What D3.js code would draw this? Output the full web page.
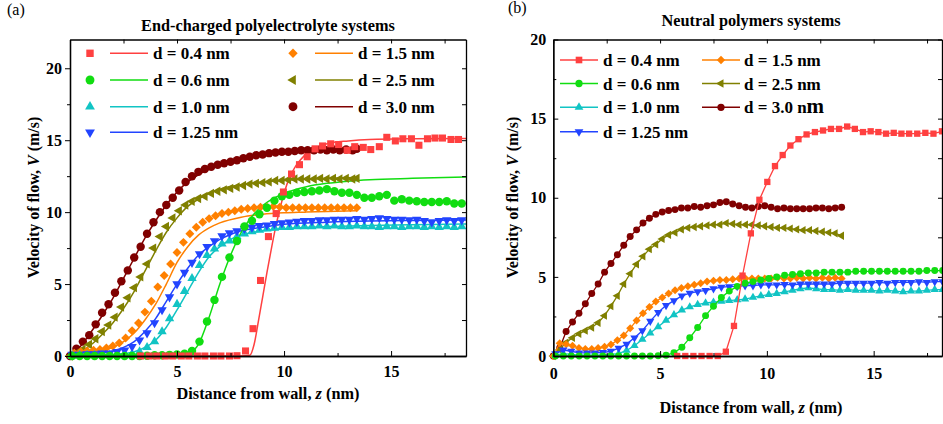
<!DOCTYPE html>
<html>
<head>
<meta charset="utf-8">
<script src="https://cdn.jsdelivr.net/npm/d3@7"></script>
<style>
  body { margin: 0; background: #fff; }
  svg text { font-family: "Liberation Serif", "Times New Roman", serif; }
</style>
</head>
<body>
<script>
var w = 943,
    h = 424;

var labels = ['d = 0.4 nm', 'd = 0.6 nm', 'd = 1.0 nm', 'd = 1.25 nm', 'd = 1.5 nm', 'd = 2.5 nm', 'd = 3.0 nm'];
var colors = ['#ff4040', '#11dd11', '#11c4c4', '#2244ff', '#ff8000', '#808000', '#800000'];
var shapes = ['square', 'circle', 'up', 'down', 'diamond', 'left', 'circle'];

var xTicks = [0, 5, 10, 15],
    xMinor = [2.5, 7.5, 12.5, 17.5],
    yTicks = [0, 5, 10, 15, 20],
    yMinor = [2.5, 7.5, 12.5, 17.5];

// ---- panel (a): simulation points, [z, V]
var aRed = [[3.3,0],[3.7,0],[4.05,0],[4.45,0],[4.8,0],[5.2,0],[5.55,0],[5.95,0],[6.3,0],[6.7,0],[7.05,0],[7.45,0],[7.8,0.02],[8.2,0.35],[8.55,1.9],[8.9,5.25],[9.27,8.3],[9.63,9.9],[9.97,11.4],[10.35,12.65],[10.72,13.3],[11.08,13.85],[11.45,14.4],[11.8,14.6],[12.18,14.75],[12.55,14.7],[12.95,14.3],[13.3,14.55],[13.7,14.5],[14.05,14.35],[14.45,14.55],[14.8,15.2],[15.2,14.95],[15.55,15.1],[15.95,15.1],[16.3,14.65],[16.7,15.1],[17.05,15.15],[17.4,15.15],[17.8,15.05],[18.15,15.05]];
var aGreen = [[0.1,0],[0.45,0],[0.8,0],[1.15,0],[1.5,0],[1.85,0],[2.2,0],[2.55,0],[2.9,0],[3.25,0],[3.6,0.02],[3.95,0.05],[4.3,0.05],[4.65,0.08],[5.0,0.1],[5.35,0.15],[5.7,0.35],[6.05,1.0],[6.4,2.4],[6.75,3.9],[7.1,5.5],[7.45,6.85],[7.8,8.0],[8.15,9.0],[8.5,9.4],[8.85,9.85],[9.2,10.3],[9.55,10.8],[9.9,11.1],[10.25,11.2],[10.6,11.35],[10.95,11.4],[11.3,11.45],[11.65,11.5],[12.0,11.6],[12.35,11.45],[12.7,11.35],[13.05,11.35],[13.4,11.2],[13.75,11.0],[14.1,11.0],[14.45,11.1],[14.8,11.2],[15.15,10.8],[15.5,10.9],[15.85,10.8],[16.2,10.75],[16.55,10.7],[16.9,10.7],[17.25,10.7],[17.6,10.75],[17.95,10.6],[18.3,10.6]];
var aCyan = [[0.1,0],[0.45,0.05],[0.8,0.05],[1.15,0.05],[1.5,0.05],[1.85,0.05],[2.2,0.1],[2.55,0.1],[2.9,0.15],[3.25,0.3],[3.6,0.6],[3.95,1.0],[4.3,1.7],[4.65,2.6],[5.0,3.6],[5.35,4.5],[5.7,5.4],[6.05,6.3],[6.4,7.0],[6.75,7.45],[7.1,7.8],[7.45,8.0],[7.8,8.3],[8.15,8.5],[8.5,8.65],[8.85,8.75],[9.2,8.85],[9.55,8.9],[9.9,8.95],[10.25,8.95],[10.6,9.0],[10.95,9.0],[11.3,9.0],[11.65,9.05],[12.0,9.0],[12.35,9.05],[12.7,9.0],[13.05,9.0],[13.4,9.05],[13.75,9.0],[14.1,9.0],[14.45,8.95],[14.8,9.0],[15.15,9.0],[15.5,8.95],[15.85,9.0],[16.2,9.0],[16.55,8.95],[16.9,9.0],[17.25,8.95],[17.6,9.0],[17.95,8.95],[18.3,9.0]];
var aBlue = [[0.1,0.1],[0.45,0.1],[0.8,0.15],[1.15,0.15],[1.5,0.2],[1.85,0.2],[2.2,0.3],[2.55,0.4],[2.9,0.65],[3.25,1.1],[3.6,1.6],[3.95,2.3],[4.3,3.2],[4.65,4.1],[5.0,5.0],[5.35,5.8],[5.7,6.5],[6.05,7.1],[6.4,7.6],[6.75,8.0],[7.1,8.35],[7.45,8.55],[7.8,8.7],[8.15,8.85],[8.5,8.95],[8.85,9.05],[9.2,9.1],[9.55,9.2],[9.9,9.25],[10.25,9.3],[10.6,9.35],[10.95,9.4],[11.3,9.4],[11.65,9.45],[12.0,9.45],[12.35,9.5],[12.7,9.5],[13.05,9.5],[13.4,9.55],[13.75,9.5],[14.1,9.55],[14.45,9.6],[14.8,9.55],[15.15,9.5],[15.5,9.5],[15.85,9.45],[16.2,9.5],[16.55,9.4],[16.9,9.3],[17.25,9.4],[17.6,9.45],[17.95,9.4],[18.3,9.45]];
var aOrange = [[0.2,0.2],[0.5,0.3],[0.8,0.35],[1.1,0.4],[1.4,0.45],[1.7,0.55],[2.0,0.7],[2.3,0.9],[2.6,1.25],[2.9,1.75],[3.2,2.3],[3.5,3.05],[3.8,3.8],[4.1,4.8],[4.4,5.6],[4.7,6.4],[5.0,7.2],[5.3,7.9],[5.6,8.5],[5.9,8.95],[6.2,9.3],[6.5,9.55],[6.8,9.75],[7.1,9.9],[7.4,10.0],[7.7,10.1],[8.0,10.2],[8.3,10.25],[8.6,10.3],[8.9,10.35],[9.2,10.35],[9.5,10.4],[9.8,10.35],[10.1,10.3],[10.4,10.3],[10.7,10.3],[11.0,10.3],[11.3,10.3],[11.6,10.3],[11.9,10.3],[12.2,10.3],[12.5,10.3],[12.8,10.3],[13.1,10.3],[13.4,10.3]];
var aOlive = [[0,0],[0.3,0.2],[0.6,0.45],[0.9,0.8],[1.2,1.2],[1.5,1.7],[1.8,2.15],[2.1,2.7],[2.4,3.4],[2.7,4.05],[3.0,4.75],[3.3,5.5],[3.6,6.4],[3.9,7.5],[4.2,8.3],[4.5,9.0],[4.8,9.6],[5.1,10.1],[5.4,10.5],[5.7,10.75],[6.0,10.95],[6.3,11.1],[6.6,11.3],[6.9,11.45],[7.2,11.55],[7.5,11.65],[7.8,11.75],[8.1,11.85],[8.4,11.95],[8.7,12.0],[9.0,12.05],[9.3,12.1],[9.6,12.2],[9.9,12.2],[10.2,12.25],[10.5,12.3],[10.8,12.3],[11.1,12.3],[11.4,12.3],[11.7,12.35],[12.0,12.3],[12.3,12.35],[12.6,12.3],[12.9,12.35],[13.2,12.3],[13.4,12.35]];
var aDark = [[0,0],[0.3,0.5],[0.6,1.0],[0.9,1.45],[1.2,2.2],[1.5,3.0],[1.8,3.6],[2.1,4.4],[2.4,5.2],[2.7,5.95],[3.0,6.85],[3.3,7.6],[3.6,8.5],[3.9,9.3],[4.2,10.0],[4.5,10.5],[4.8,11.0],[5.1,11.5],[5.4,12.1],[5.7,12.5],[6.0,12.8],[6.3,13.0],[6.6,13.15],[6.9,13.3],[7.2,13.4],[7.5,13.5],[7.8,13.6],[8.1,13.75],[8.4,13.85],[8.7,13.95],[9.0,14.0],[9.3,14.1],[9.6,14.15],[9.9,14.2],[10.2,14.2],[10.5,14.25],[10.8,14.3],[11.1,14.3],[11.4,14.3],[11.7,14.35],[12.0,14.3],[12.3,14.35],[12.6,14.3],[12.9,14.35],[13.2,14.3],[13.4,14.4]];

// ---- panel (a): fitted curves
var fitRed = [[0,0],[8,0],[8.4,0.05],[8.6,0.8],[8.8,2.4],[9.0,4.1],[9.2,5.8],[9.4,7.4],[9.6,8.9],[9.8,10.2],[10.0,11.3],[10.25,12.4],[10.5,13.1],[10.75,13.6],[11,14.0],[11.5,14.5],[12,14.75],[13,14.95],[14,15.05],[16,15.1],[18.5,15.12]];
var fitGreen = [[0,0],[5,0.02],[5.5,0.15],[6,0.8],[6.5,2.7],[7,5.0],[7.5,7.0],[8,8.6],[8.5,9.7],[9,10.45],[9.5,10.95],[10,11.3],[11,11.75],[12,12.0],[13,12.15],[14,12.25],[16,12.35],[18.5,12.45]];
var fitCyan = [[0,0],[1,0.02],[2,0.1],[3,0.3],[3.5,0.6],[4,1.1],[4.5,2.0],[5,3.2],[5.5,4.5],[6,5.8],[6.5,6.9],[7,7.6],[7.5,8.1],[8,8.4],[9,8.7],[10,8.85],[12,9.0],[14,9.07],[16,9.12],[18.5,9.17]];
var fitBlue = [[0,0.05],[1,0.15],[2,0.35],[2.5,0.6],[3,1.0],[3.5,1.7],[4,2.6],[4.5,3.8],[5,5.0],[5.5,6.1],[6,7.0],[6.5,7.6],[7,8.1],[7.5,8.45],[8,8.7],[9,8.95],[10,9.15],[12,9.3],[14,9.38],[16,9.42],[18.5,9.45]];
var fitOrange = [[0,0.05],[1,0.2],[2,0.6],[2.5,1.0],[3,1.6],[3.5,2.5],[4,3.6],[4.5,5.0],[5,6.5],[5.5,7.6],[6,8.4],[6.5,8.9],[7,9.25],[8,9.65],[9,9.85],[10,9.95],[11,10.0],[12,10.05],[13.4,10.1]];
var fitOlive = [[0,0],[0.5,0.3],[1,0.8],[1.5,1.5],[2,2.3],[2.5,3.3],[3,4.5],[3.5,5.9],[4,7.3],[4.5,8.6],[5,9.6],[5.5,10.4],[6,10.9],[6.5,11.3],[7,11.6],[8,11.9],[9,12.1],[10,12.2],[11,12.3],[12,12.35],[13.4,12.4]];
var fitDark = [[0,0],[0.5,0.7],[1,1.7],[1.5,2.8],[2,4.0],[2.5,5.4],[3,6.8],[3.5,8.2],[4,9.4],[4.5,10.5],[5,11.4],[5.5,12.1],[6,12.6],[7,13.3],[8,13.8],[9,14.1],[10,14.25],[11,14.35],[12,14.4],[13.4,14.45]];

// ---- panel (b): line + symbol series, [z, V]
var bRed = [[5.8,0],[6.18,0],[6.56,0],[6.94,0],[7.32,0],[7.7,0],[8.08,0.27],[8.46,1.9],[8.86,5.08],[9.25,7.75],[9.65,9.87],[10.02,11.0],[10.38,12.0],[10.74,12.7],[11.1,13.3],[11.48,13.7],[11.86,14.0],[12.25,14.15],[12.63,14.25],[13.0,14.35],[13.38,14.35],[13.76,14.5],[14.12,14.35],[14.5,14.15],[14.86,14.2],[15.22,14.15],[15.58,14.05],[15.94,14.1],[16.3,14.05],[16.66,14.05],[17.04,14.05],[17.42,14.1],[17.8,14.05],[18.2,14.2]];
var bGreen = [[0.1,0],[0.47,0],[0.84,0],[1.21,0],[1.58,0],[1.95,0],[2.32,0],[2.69,0],[3.06,0],[3.43,0],[3.8,0],[4.17,0],[4.54,0],[4.91,0.02],[5.28,0.05],[5.65,0.2],[6.02,0.55],[6.39,1.15],[6.76,1.8],[7.13,2.55],[7.5,3.15],[7.87,3.7],[8.24,4.1],[8.61,4.4],[8.98,4.6],[9.35,4.7],[9.72,4.8],[10.09,4.9],[10.46,5.0],[10.83,5.1],[11.2,5.15],[11.57,5.2],[11.94,5.25],[12.31,5.25],[12.68,5.3],[13.05,5.3],[13.42,5.3],[13.79,5.3],[14.16,5.35],[14.53,5.35],[14.9,5.35],[15.27,5.35],[15.64,5.35],[16.01,5.35],[16.38,5.35],[16.75,5.35],[17.12,5.35],[17.49,5.4],[17.86,5.4],[18.23,5.4]];
var bCyan = [[0.1,0.05],[0.47,0.15],[0.84,0.1],[1.21,0.05],[1.58,0.05],[1.95,0.05],[2.32,0.05],[2.69,0.1],[3.06,0.15],[3.43,0.35],[3.8,0.65],[4.17,1.05],[4.54,1.45],[4.91,1.85],[5.28,2.25],[5.65,2.6],[6.02,2.9],[6.39,3.1],[6.76,3.25],[7.13,3.35],[7.5,3.4],[7.87,3.45],[8.24,3.5],[8.61,3.55],[8.98,3.6],[9.35,3.7],[9.72,3.8],[10.09,3.88],[10.46,3.95],[10.83,4.05],[11.2,4.15],[11.57,4.25],[11.94,4.3],[12.31,4.25],[12.68,4.2],[13.05,4.2],[13.42,4.15],[13.79,4.2],[14.16,4.15],[14.53,4.15],[14.9,4.15],[15.27,4.1],[15.64,4.15],[16.01,4.1],[16.38,4.05],[16.75,4.1],[17.12,4.1],[17.49,4.15],[17.86,4.2],[18.23,4.2]];
var bBlue = [[0.1,0.15],[0.47,0.38],[0.84,0.3],[1.21,0.2],[1.58,0.2],[1.95,0.2],[2.32,0.22],[2.69,0.3],[3.06,0.5],[3.43,0.75],[3.8,1.15],[4.17,1.6],[4.54,2.2],[4.91,2.75],[5.28,3.2],[5.65,3.5],[6.02,3.8],[6.39,3.97],[6.76,4.07],[7.13,4.15],[7.5,4.25],[7.87,4.35],[8.24,4.38],[8.61,4.4],[8.98,4.45],[9.35,4.45],[9.72,4.5],[10.09,4.5],[10.46,4.5],[10.83,4.52],[11.2,4.5],[11.57,4.55],[11.94,4.55],[12.31,4.55],[12.68,4.55],[13.05,4.55],[13.42,4.6],[13.79,4.6],[14.16,4.6],[14.53,4.6],[14.9,4.6],[15.27,4.65],[15.64,4.6],[16.01,4.65],[16.38,4.65],[16.75,4.65],[17.12,4.7],[17.49,4.65],[17.86,4.7],[18.23,4.7]];
var bOrange = [[0,0],[0.3,0.8],[0.6,0.75],[0.9,0.65],[1.2,0.5],[1.5,0.45],[1.8,0.45],[2.1,0.5],[2.4,0.58],[2.7,0.72],[3.0,1.0],[3.3,1.3],[3.6,1.75],[3.9,2.25],[4.2,2.7],[4.5,3.1],[4.8,3.45],[5.1,3.7],[5.4,3.95],[5.7,4.15],[6.0,4.3],[6.3,4.4],[6.6,4.5],[6.9,4.6],[7.2,4.7],[7.5,4.75],[7.8,4.8],[8.1,4.8],[8.4,4.85],[8.7,4.9],[9.0,4.9],[9.3,4.9],[9.6,4.9],[9.9,4.9],[10.2,4.9],[10.5,4.95],[10.8,4.9],[11.1,4.9],[11.4,4.95],[11.7,4.9],[12.0,4.95],[12.3,4.9],[12.6,4.95],[12.9,4.9],[13.2,4.95],[13.5,4.9]];
var bOlive = [[0,0],[0.3,0.4],[0.6,0.85],[0.9,1.15],[1.2,1.4],[1.5,1.6],[1.8,1.8],[2.1,2.1],[2.4,2.55],[2.7,3.15],[3.0,3.8],[3.3,4.55],[3.6,5.2],[3.9,5.8],[4.2,6.3],[4.5,6.75],[4.8,7.05],[5.1,7.4],[5.4,7.65],[5.7,7.8],[6.0,8.0],[6.3,8.1],[6.6,8.15],[6.9,8.2],[7.2,8.25],[7.5,8.3],[7.8,8.3],[8.1,8.4],[8.4,8.35],[8.7,8.3],[9.0,8.3],[9.3,8.3],[9.6,8.25],[9.9,8.2],[10.2,8.15],[10.5,8.1],[10.8,8.1],[11.1,8.05],[11.4,8.0],[11.7,7.95],[12.0,7.95],[12.3,7.9],[12.6,7.85],[12.9,7.8],[13.2,7.75],[13.5,7.6]];
var bDark = [[0,0],[0.3,0.5],[0.6,1.55],[0.9,2.15],[1.2,2.7],[1.5,3.3],[1.8,3.95],[2.1,4.55],[2.4,5.3],[2.7,5.85],[3.0,6.4],[3.3,7.0],[3.6,7.55],[3.9,7.97],[4.2,8.4],[4.5,8.7],[4.8,8.95],[5.1,9.1],[5.4,9.2],[5.7,9.25],[6.0,9.35],[6.3,9.35],[6.6,9.45],[6.9,9.4],[7.2,9.5],[7.5,9.55],[7.8,9.7],[8.1,9.75],[8.4,9.6],[8.7,9.5],[9.0,9.4],[9.3,9.35],[9.6,9.45],[9.9,9.5],[10.2,9.4],[10.5,9.3],[10.8,9.35],[11.1,9.3],[11.4,9.3],[11.7,9.3],[12.0,9.3],[12.3,9.35],[12.6,9.35],[12.9,9.3],[13.2,9.35],[13.5,9.4]];

var panels = [
  { tag: '(a)', tagX: 7, tagY: 15,
    title: 'End-charged polyelectrolyte systems', titleX: 268, titleY: 31,
    left: 70, right: 466, top: 39.5, bottom: 356, xMax: 18.5, yMax: 22,
    xTitleX: 268, xTitleY: 399, yTitleX: 39, tickLabelY: 377,
    outerTicks: true,
    points: [aRed, aGreen, aCyan, aBlue, aOrange, aOlive, aDark],
    fits: [fitRed, fitGreen, fitCyan, fitBlue, fitOrange, fitOlive, fitDark],
    sizes: { square: 50, circle: 56, up: 38, down: 38, diamond: 40, left: 38 },
    legendRows: [53.3, 80, 106.7, 132.3],
    legendCols: [{ marker: 90, x1: 110, x2: 148, text: 153 }, { marker: 293, x1: 315, x2: 353, text: 358 }] },
  { tag: '(b)', tagX: 508, tagY: 13,
    title: 'Neutral polymers systems', titleX: 751, titleY: 26,
    left: 553.3, right: 942, top: 39.5, bottom: 356, xMax: 18.2, yMax: 20,
    xTitleX: 751, xTitleY: 413, yTitleX: 518, tickLabelY: 379,
    outerTicks: false,
    points: [bRed, bGreen, bCyan, bBlue, bOrange, bOlive, bDark],
    fits: null,
    sizes: { square: 40, circle: 38, up: 30, down: 30, diamond: 32, left: 30 },
    legendRows: [60, 83.5, 107.3, 131.7],
    legendCols: [{ marker: 579, x1: 560, x2: 598, text: 603 }, { marker: 721, x1: 702, x2: 740, text: 744 }] }
];

var svg = d3.select('body')
  .append('svg')
  .attr('width', w)
  .attr('height', h)
  .style('display', 'block');

svg.append('rect').attr('width', w).attr('height', h).attr('fill', '#fff');

function symbolFor(shape, size) {
    var type = shape === 'circle' ? d3.symbolCircle
             : (shape === 'square' || shape === 'diamond') ? d3.symbolSquare
             : d3.symbolTriangle;
    return d3.symbol().type(type).size(size)();
}

function rotFor(shape) {
    if (shape === 'down') return 180;
    if (shape === 'left') return -90;
    if (shape === 'diamond') return 45;
    return 0;
}

function drawMarker(g, shape, color, size, cx, cy) {
    g.append('path')
      .attr('d', symbolFor(shape, size))
      .attr('transform', 'translate(' + cx + ',' + cy + ') rotate(' + rotFor(shape) + ')')
      .attr('fill', color)
      .attr('stroke', 'none');
}

panels.forEach(function(p, pi) {
    var x = d3.scaleLinear().domain([0, p.xMax]).range([p.left, p.right]);
    var y = d3.scaleLinear().domain([0, p.yMax]).range([p.bottom, p.top]);
    var g = svg.append('g');

    var clipId = 'clip' + pi;
    svg.append('clipPath').attr('id', clipId)
      .append('rect')
      .attr('x', p.left).attr('y', p.top)
      .attr('width', p.right - p.left).attr('height', p.bottom - p.top);

    var line = d3.line()
      .x(function(d) { return x(d[0]); })
      .y(function(d) { return y(d[1]); });

    // fitted curves (panel a) or connecting lines (panel b)
    var lineG = g.append('g').attr('clip-path', 'url(#' + clipId + ')');
    var order = [6, 5, 4, 2, 3, 1, 0];
    if (p.fits) {
        var smooth = d3.line()
          .x(function(d) { return x(d[0]); })
          .y(function(d) { return y(d[1]); })
          .curve(d3.curveMonotoneX);
        order.forEach(function(i) {
            lineG.append('path')
              .attr('d', smooth(p.fits[i]))
              .attr('fill', 'none')
              .attr('stroke', colors[i])
              .attr('stroke-width', 1.5);
        });
    }
    var markG = g.append('g');
    order.forEach(function(i) {
        if (!p.fits) {
            markG.append('path')
              .attr('d', line(p.points[i]))
              .attr('fill', 'none')
              .attr('stroke', colors[i])
              .attr('stroke-width', 1.3);
        }
        p.points[i].forEach(function(d) {
            drawMarker(markG, shapes[i], colors[i], p.sizes[shapes[i]], x(d[0]), y(d[1]));
        });
    });

    // axes
    var inner = p.outerTicks ? 5 : -5;
    var bottomAxis = d3.axisBottom(x).tickValues(xTicks).tickSize(-5).tickSizeOuter(0).tickPadding(9);
    var leftAxis = d3.axisLeft(y).tickValues(yTicks).tickSize(inner).tickSizeOuter(0).tickPadding(p.outerTicks ? 3 : 7);
    var gx = g.append('g').attr('transform', 'translate(0,' + p.bottom + ')').call(bottomAxis);
    var gy = g.append('g').attr('transform', 'translate(' + p.left + ',0)').call(leftAxis);
    g.append('g').attr('transform', 'translate(0,' + p.bottom + ')')
      .call(d3.axisBottom(x).tickValues(xMinor).tickSize(-3).tickSizeOuter(0).tickFormat(''));
    g.append('g').attr('transform', 'translate(' + p.left + ',0)')
      .call(d3.axisLeft(y).tickValues(yMinor).tickSize(p.outerTicks ? 3 : -3).tickSizeOuter(0).tickFormat(''));
    g.append('g').attr('transform', 'translate(0,' + p.top + ')')
      .call(d3.axisTop(x).tickValues(xTicks.concat(xMinor)).tickSize(-4).tickSizeOuter(0).tickFormat(''));
    g.append('g').attr('transform', 'translate(' + p.right + ',0)')
      .call(d3.axisRight(y).tickValues(yTicks.concat(yMinor)).tickSize(-4).tickSizeOuter(0).tickFormat(''));

    g.selectAll('.domain').attr('stroke', '#000').attr('stroke-width', 1.3);
    g.selectAll('.tick line').attr('stroke', '#000').attr('stroke-width', 1);
    [gx, gy].forEach(function(a) {
        a.selectAll('text')
          .attr('font-size', 16)
          .attr('font-weight', 'bold')
          .attr('fill', '#000')
          .style('font-family', '"Liberation Serif", serif');
    });
    gx.selectAll('text').attr('dy', null).attr('y', p.tickLabelY - p.bottom);

    // titles
    svg.append('text')
      .attr('x', p.tagX).attr('y', p.tagY)
      .attr('font-size', 16)
      .text(p.tag);
    svg.append('text')
      .attr('x', p.titleX)
      .attr('y', p.titleY)
      .attr('text-anchor', 'middle')
      .attr('font-size', 16.3)
      .attr('font-weight', 'bold')
      .text(p.title);

    var xt = svg.append('text')
      .attr('x', p.xTitleX)
      .attr('y', p.xTitleY)
      .attr('text-anchor', 'middle')
      .attr('font-size', 16.3)
      .attr('font-weight', 'bold');
    xt.append('tspan').text('Distance from wall, ');
    xt.append('tspan').attr('font-style', 'italic').text('z');
    xt.append('tspan').text(' (nm)');

    var yt = svg.append('text')
      .attr('transform', 'translate(' + p.yTitleX + ',197.5) rotate(-90)')
      .attr('text-anchor', 'middle')
      .attr('font-size', 16)
      .attr('font-weight', 'bold');
    yt.append('tspan').text('Velocity of flow, ');
    yt.append('tspan').attr('font-style', 'italic').text('V');
    yt.append('tspan').text(' (m/s)');

    // legend
    var lg = svg.append('g');
    labels.forEach(function(lab, i) {
        var col = p.legendCols[i < 4 ? 0 : 1];
        var ry = p.legendRows[i < 4 ? i : i - 4];
        lg.append('line')
          .attr('x1', col.x1).attr('x2', col.x2)
          .attr('y1', ry).attr('y2', ry)
          .attr('stroke', colors[i])
          .attr('stroke-width', 1.5);
        drawMarker(lg, shapes[i], colors[i], p.sizes[shapes[i]] * 1.1, col.marker, ry);
        var t = lg.append('text')
          .attr('x', col.text)
          .attr('y', ry + 6)
          .attr('font-size', 17)
          .attr('font-weight', 'bold');
        if (pi === 1 && i === 6) {
            t.append('tspan').text('d = 3.0 n');
            t.append('tspan').attr('font-size', 21).text('m');
        } else {
            t.text(lab);
        }
    });
});
</script>
</body>
</html>
